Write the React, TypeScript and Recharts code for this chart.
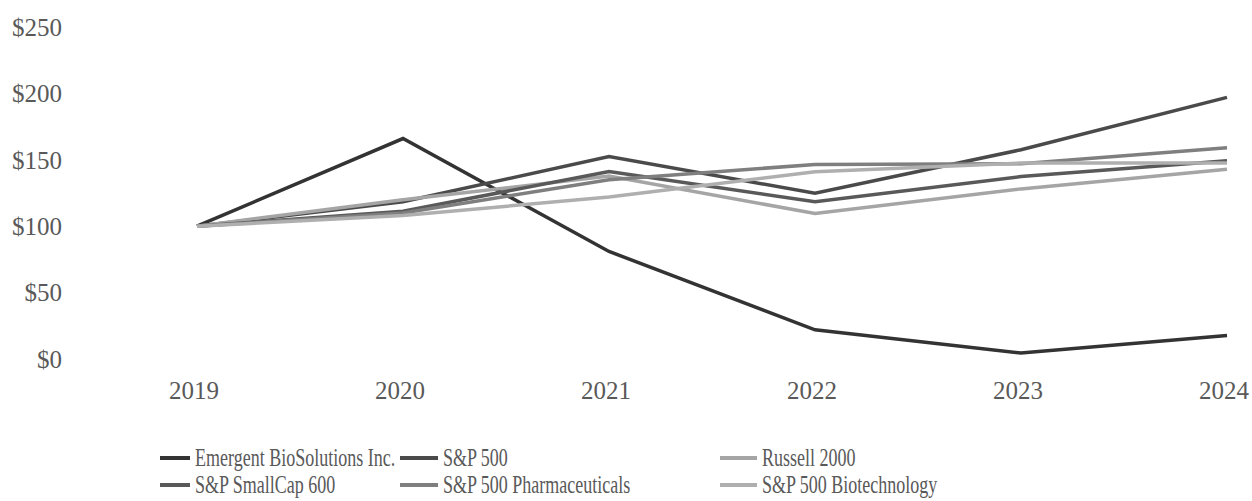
import { Line, LineChart, XAxis, YAxis } from "recharts";

const years = ["2019", "2020", "2021", "2022", "2023", "2024"];
const emergent = [100, 166, 81, 22, 4.5, 17.7];
const sp500 = [100, 118.4, 152.4, 124.8, 157.6, 197.0];
const russell2000 = [100, 120, 137.7, 109.6, 128.1, 142.9];
const smallCap600 = [100, 111.3, 141.1, 118.4, 137.4, 149.3];
const pharma = [100, 110, 135, 146.5, 147, 159];
const biotech = [100, 108, 122, 141, 147.5, 147.5];
const yTicks = [0, 50, 100, 150, 200, 250];

const series = [
  { key: "emergent", name: "Emergent BioSolutions Inc.", color: "#333333", values: emergent },
  { key: "sp500", name: "S&P 500", color: "#4a4a4a", values: sp500 },
  { key: "russell", name: "Russell 2000", color: "#a5a5a5", values: russell2000 },
  { key: "smallcap", name: "S&P SmallCap 600", color: "#595959", values: smallCap600 },
  { key: "pharma", name: "S&P 500 Pharmaceuticals", color: "#7f7f7f", values: pharma },
  { key: "biotech", name: "S&P 500 Biotechnology", color: "#afafaf", values: biotech },
];

const data = years.map((year, i) => {
  const row: Record<string, string | number> = { year };
  series.forEach((s) => {
    row[s.key] = s.values[i];
  });
  return row;
});

const font = "'Liberation Serif', 'Times New Roman', serif";
const legendCols = [160, 400, 720];
const legendLineWidth = [30, 38, 37];
const legendRows = [445, 472];

export default function App() {
  return (
    <div
      style={{
        position: "fixed",
        top: 0,
        left: 0,
        width: 1252,
        height: 501,
        overflow: "hidden",
        fontFamily: font,
        background: "#fff",
      }}
    >
      <LineChart
        width={1252}
        height={501}
        data={data}
        margin={{ top: 27, right: 25, left: 0, bottom: 102 }}
      >
        <XAxis
          dataKey="year"
          axisLine={false}
          tickLine={false}
          tickSize={0}
          tickMargin={22}
          height={40}
          tick={{ fill: "#595959", fontSize: 25, fontFamily: font, dx: -3 }}
        />
        <YAxis
          domain={[0, 250]}
          ticks={yTicks}
          width={197}
          axisLine={false}
          tickLine={false}
          tickSize={0}
          tickMargin={135}
          tickFormatter={(v) => `$${v}`}
          tick={{ fill: "#595959", fontSize: 25, fontFamily: font }}
        />
        {series.map((s) => (
          <Line
            key={s.key}
            type="linear"
            dataKey={s.key}
            name={s.name}
            stroke={s.color}
            strokeWidth={3.5}
            dot={false}
            isAnimationActive={false}
          />
        ))}
      </LineChart>
      {series.map((s, i) => (
        <div
          key={s.key}
          style={{
            position: "absolute",
            left: legendCols[i % 3],
            top: legendRows[Math.floor(i / 3)],
            display: "flex",
            alignItems: "center",
            height: 26,
            whiteSpace: "nowrap",
          }}
        >
          <span
            style={{
              display: "inline-block",
              width: legendLineWidth[i % 3],
              height: 4,
              background: s.color,
              marginRight: 5,
            }}
          />
          <span
            style={{
              display: "inline-block",
              fontSize: 25,
              color: "#595959",
              transform: "scaleX(0.72)",
              transformOrigin: "left center",
              lineHeight: "26px",
            }}
          >
            {s.name}
          </span>
        </div>
      ))}
    </div>
  );
}
